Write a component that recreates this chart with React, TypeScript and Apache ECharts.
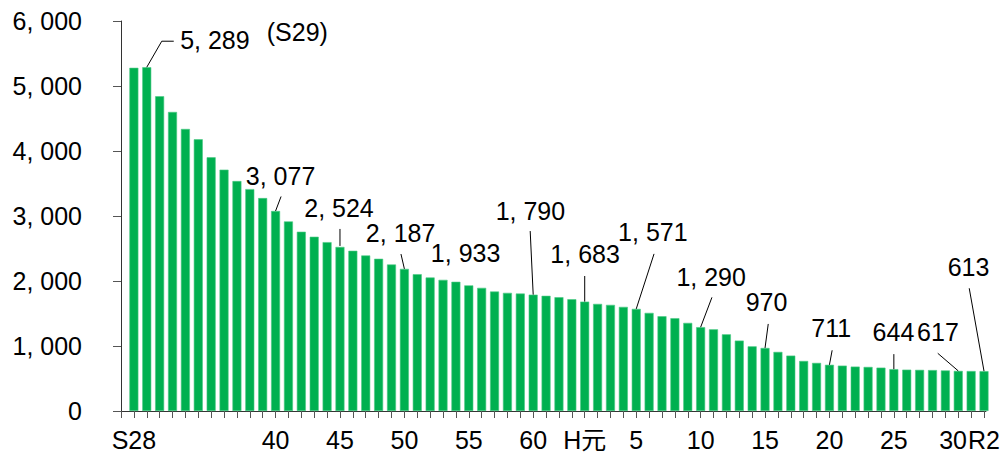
import React, { useEffect, useRef } from "react";
import * as echarts from "echarts";

// Categories (one bar each)
const categories = [
  "S28", "S29", "S31", "S32", "S33", "S34", "S35", "S36", "S37", "S38", "S39", "S40",
  "S41", "S42", "S43", "S44", "S45", "S46", "S47", "S48", "S49", "S50",
  "S51", "S52", "S53", "S54", "S55", "S56", "S57", "S58", "S59", "S60",
  "S61", "S62", "S63", "H元", "H2", "H3", "H4", "H5", "H6", "H7", "H8", "H9", "H10",
  "H11", "H12", "H13", "H14", "H15", "H16", "H17", "H18", "H19", "H20",
  "H21", "H22", "H23", "H24", "H25", "H26", "H27", "H28", "H29", "H30", "R元", "R2",
];

// Series values
const values = [
  5280, 5289, 4843, 4601, 4339, 4180, 3903, 3713, 3538, 3414, 3276, 3077,
  2917, 2758, 2681, 2598, 2524, 2465, 2393, 2342, 2254, 2187,
  2105, 2054, 2018, 1988, 1933, 1895, 1838, 1818, 1807, 1790,
  1772, 1751, 1720, 1683, 1648, 1633, 1602, 1571, 1510, 1458, 1428, 1356, 1290,
  1257, 1180, 1083, 995, 970, 909, 852, 770, 740, 711,
  698, 683, 678, 667, 644, 636, 633, 630, 624, 617, 615, 613,
];

// Tick labels shown on the x axis
const xTickLabels: Record<string, string> = {
  S28: "S28", S40: "40", S45: "45", S50: "50", S55: "55", S60: "60",
  "H元": "H元", H5: "5", H10: "10", H15: "15", H20: "20", H25: "25", H30: "30", R2: "R2",
};
// small horizontal nudge of crowded labels (in category units) - layout only
const labelNudge: Record<string, number> = { H30: -0.4 };

// Y tick values
const yTicks = [0, 1000, 2000, 3000, 4000, 5000, 6000];

// Annotated categories
const annotated = ["S29", "S40", "S45", "S50", "S55", "S60", "H元", "H5", "H10", "H15", "H20", "H25", "H30", "R2"];
const peakNote = "(S29)";

// Layout of annotations (pixel offsets from bar top) - styling only
type Lay = { dx: number; dy: number; align?: string; leader?: number[][]; note?: { dx: number; dy: number } };
const annotationLayout: Lay[] = [
  { dx: 33.4, dy: -27.5, align: "left", leader: [[0, 0], [15, -26], [27, -26]], note: { dx: 120, dy: -35.5 } },
  { dx: 5, dy: -35, leader: [[0, 0], [5.5, -14.5]] },
  { dx: -1, dy: -39, leader: [[0, -1], [0, -18]] },
  { dx: -3.8, dy: -35.8, leader: [[0, 0], [-3.4, -14.8]] },
  { dx: -3.2, dy: -32.4 },
  { dx: -2.8, dy: -84, leader: [[0, 0], [-3, -63.6]] },
  { dx: 0.4, dy: -48, leader: [[0, 0], [0, -25.6]] },
  { dx: 16.6, dy: -76.4, leader: [[0, 0], [17.8, -55]] },
  { dx: 10.5, dy: -50.6, leader: [[0, 0], [11.3, -29.8]] },
  { dx: 1.5, dy: -45.5, leader: [[0, 0], [3.2, -24]] },
  { dx: 1.7, dy: -37, leader: [[0, 0], [2.7, -14.5]] },
  { dx: -0.4, dy: -37.1, leader: [[0, 0], [0, -15]] },
  { dx: -20.3, dy: -38.9, leader: [[0, 0], [-20.5, -17.6]] },
  { dx: -15.5, dy: -104.5, leader: [[0, 0], [-14.8, -82.9]] },
];

const FONT = "'Liberation Sans', Arial, 'Noto Sans CJK JP', sans-serif";
const FS = 25;
const fmt = (v: number) => (v >= 1000 ? v.toLocaleString("en-US").replace(",", ", ") : String(v));

export default function App() {
  const ref = useRef<HTMLDivElement>(null);
  useEffect(() => {
    if (!ref.current) return;
    const chart = echarts.init(ref.current, undefined, { renderer: "svg" });
    const barData = values.map((v, i) => [i, v]);
    const annData = annotated.map((c) => {
      const i = categories.indexOf(c);
      return [i, values[i]];
    });
    const tickIdx = [-1, ...categories.map((_, i) => i)];
    const labelIdx = categories
      .map((c, i) => (xTickLabels[c] ? i + (labelNudge[c] || 0) : -99))
      .filter((i) => i >= 0);
    chart.setOption({
      animation: false,
      backgroundColor: "#ffffff",
      grid: { left: 121, top: 21, width: 870, height: 390, containLabel: false },
      xAxis: {
        type: "value",
        min: -1,
        max: 66.15,
        axisLine: { show: true, onZero: true, lineStyle: { color: "#333", width: 1 } },
        axisTick: { show: true, length: 7, customValues: tickIdx, lineStyle: { color: "#555" } },
        axisLabel: {
          show: true,
          customValues: labelIdx,
          showMinLabel: true,
          showMaxLabel: true,
          hideOverlap: false,
          margin: 16,
          fontSize: FS,
          fontFamily: FONT,
          color: "#000",
          formatter: (v: number) => {
            const c = categories[Math.round(v)];
            return c ? xTickLabels[c] || "" : "";
          },
        },
        splitLine: { show: false },
      },
      yAxis: {
        type: "value",
        min: 0,
        max: 6000,
        interval: 1000,
        axisLine: { show: true, onZero: false, lineStyle: { color: "#333", width: 1 } },
        axisTick: { show: true, length: 8, inside: false, lineStyle: { color: "#555" } },
        axisLabel: {
          show: true,
          margin: 39,
          fontSize: FS,
          fontFamily: FONT,
          color: "#000",
          customValues: yTicks,
          formatter: (v: number) => fmt(v),
        },
        splitLine: { show: false },
      },
      series: [
        {
          type: "bar",
          data: barData,
          barWidth: 9,
          itemStyle: { color: "#00B050", borderColor: "#4cc985", borderWidth: 0.6 },
        },
        {
          type: "custom",
          clip: false,
          z: 5,
          data: annData,
          renderItem: (params: any, api: any) => {
            const i = api.value(0);
            const v = api.value(1);
            const [px, py] = api.coord([i, v]);
            const lay = annotationLayout[params.dataIndex];
            const children: any[] = [];
            if (lay.leader) {
              children.push({
                type: "polyline",
                shape: { points: lay.leader.map(([a, b]) => [px + a, py + b]) },
                style: { stroke: "#000", lineWidth: 1, fill: null },
              });
            }
            children.push({
              type: "text",
              x: px + lay.dx,
              y: py + lay.dy,
              style: {
                text: fmt(v),
                fontSize: FS,
                fontFamily: FONT,
                fill: "#000",
                align: lay.align || "center",
                verticalAlign: "middle",
              },
            });
            if (lay.note) {
              children.push({
                type: "text",
                x: px + lay.note.dx,
                y: py + lay.note.dy,
                style: {
                  text: peakNote,
                  fontSize: FS,
                  fontFamily: FONT,
                  fill: "#000",
                  align: "left",
                  verticalAlign: "middle",
                },
              });
            }
            return { type: "group", children };
          },
        },
      ],
    });
    return () => chart.dispose();
  }, []);
  return (
    <div
      ref={ref}
      style={{ position: "fixed", left: 0, top: 0, width: 1003, height: 456, background: "#fff" }}
    />
  );
}
